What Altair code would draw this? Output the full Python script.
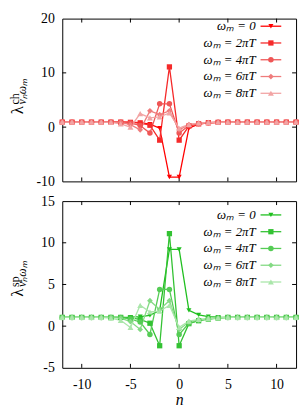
import altair as alt
import pandas as pd

n_vals = list(range(-12, 13))
labels = ["ωₘ = 0", "ωₘ = 2πT", "ωₘ = 4πT", "ωₘ = 6πT", "ωₘ = 8πT"]

# charge channel (n = -12 .. 12)
ch_w0 = [0.92] * 7 + [0.9, 0.82, 0.55, -0.2, -9.2, -9.2, -0.2, 0.55, 0.8, 0.88] + [0.92] * 8
ch_w1 = [0.92] * 7 + [0.88, 0.75, 0.35, -2.4, 11.1, -2.4, 0.2, 0.6, 0.8, 0.88] + [0.92] * 8
ch_w2 = [0.92] * 7 + [0.75, 0.3, -1.1, 4.3, 4.3, -1.1, 0.3, 0.65, 0.82, 0.9] + [0.92] * 8
ch_w3 = [0.92] * 6 + [0.88, 0.45, -0.5, 3.0, 2.3, 3.0, -0.5, 0.45, 0.7, 0.85, 0.9] + [0.92] * 8
ch_w4 = [0.92] * 5 + [0.88, 0.6, 0.0, 2.5, 1.7, 1.9, 2.6, -0.2, 0.5, 0.75, 0.85, 0.9] + [0.92] * 8

# spin channel
sp_w0 = [1.05] * 7 + [1.08, 1.15, 1.3, 1.9, 9.2, 9.2, 1.9, 1.35, 1.15, 1.08] + [1.05] * 8
sp_w1 = [1.05] * 7 + [1.0, 0.8, 0.35, -2.35, 11.1, -2.35, 0.3, 0.65, 0.85, 0.97] + [1.05] * 8
sp_w2 = [1.05] * 7 + [0.85, 0.5, -1.0, 4.4, 4.4, -1.0, 0.35, 0.7, 0.88, 0.98] + [1.05] * 8
sp_w3 = [1.05] * 6 + [0.95, 0.55, -0.4, 3.05, 2.0, 3.05, -0.4, 0.5, 0.75, 0.9, 0.98] + [1.05] * 8
sp_w4 = [1.05] * 5 + [0.95, 0.7, -0.15, 2.5, 1.7, 1.8, 2.5, -0.15, 0.6, 0.8, 0.9, 0.98] + [1.05] * 8

red_colors = ["#ff0000", "#f52a2a", "#ef5656", "#ef7c7c", "#f2a4a4"]
green_colors = ["#1fbf1f", "#33c233", "#55cc55", "#84da84", "#aae6aa"]
shapes = ["triangle-down", "square", "circle", "diamond", "triangle-up"]
sizes = [26, 36, 22, 14, 22]

x_ticks = [-10, -5, 0, 5, 10]
ch_ticks = [-10, 0, 10, 20]
sp_ticks = [-5, 0, 5, 10, 15]

W = 237
SERIF = "Liberation Serif"
LBL = "datum.value < 0 ? '-' + abs(datum.value) : '' + datum.value"


def panel(series, colors, ydom, yticks, sup, H, leg_top, title_mid, show_x):
    rows = []
    for lab, vals in zip(labels, series):
        for n, v in zip(n_vals, vals):
            rows.append({"n": n, "val": v, "omega": lab})
    df = pd.DataFrame(rows)

    xs = alt.Scale(domain=[-12, 12], nice=False, zero=False)
    ys = alt.Scale(domain=ydom, nice=False, zero=False)
    if show_x:
        xaxis = alt.Axis(values=x_ticks, title="n", ticks=False, domain=False, grid=False,
                         labelPadding=10, labelExpr=LBL, labelFont=SERIF, labelFontSize=14,
                         labelColor="black", titleFont=SERIF, titleFontStyle="italic",
                         titleFontWeight="normal", titleFontSize=16, titlePadding=0,
                         titleColor="black")
    else:
        xaxis = None
    yaxis = alt.Axis(values=yticks, title=None, ticks=False, domain=False, grid=False,
                     labelPadding=8, labelExpr=LBL, labelFont=SERIF, labelFontSize=14,
                     labelColor="black")

    def XE(f):
        return alt.X(f + ":Q", scale=xs, axis=xaxis)

    def YE(f):
        return alt.Y(f + ":Q", scale=ys, axis=yaxis)

    col = alt.Color("omega:N", scale=alt.Scale(domain=labels, range=colors), legend=None)
    shp = alt.Shape("omega:N", scale=alt.Scale(domain=labels, range=shapes), legend=None)
    siz = alt.Size("omega:N", scale=alt.Scale(domain=labels, range=sizes), legend=None)

    lines = alt.Chart(df).mark_line(strokeWidth=1.3).encode(x=XE("n"), y=YE("val"), color=col)
    pts = alt.Chart(df).mark_point(filled=True, opacity=1).encode(
        x=XE("n"), y=YE("val"), color=col, shape=shp, size=siz)

    # inward ticks on all four sides
    xt = pd.DataFrame({"n": x_ticks})
    yt = pd.DataFrame({"val": [v for v in yticks if ydom[0] < v < ydom[1]]})
    tk = dict(color="black", strokeWidth=1)
    t1 = alt.Chart(xt).mark_rule(**tk).encode(x=XE("n"), y=alt.value(0), y2=alt.value(4))
    t2 = alt.Chart(xt).mark_rule(**tk).encode(x=XE("n"), y=alt.value(H - 4), y2=alt.value(H))
    t3 = alt.Chart(yt).mark_rule(**tk).encode(y=YE("val"), x=alt.value(0), x2=alt.value(4))
    t4 = alt.Chart(yt).mark_rule(**tk).encode(y=YE("val"), x=alt.value(W - 4), x2=alt.value(W))

    # legend inside top right
    span = ydom[1] - ydom[0]

    def px2n(p):
        return -12 + p * 24.0 / W

    leg = pd.DataFrame({
        "omega": labels,
        "val": [ydom[1] - (leg_top + i * 17) * span / H for i in range(5)],
        "lxt": [px2n(196)] * 5,
        "lx1": [px2n(201)] * 5,
        "lx2": [px2n(222)] * 5,
        "lxm": [px2n(211.5)] * 5,
    })
    l_rule = alt.Chart(leg).mark_rule(strokeWidth=1.3).encode(
        x=XE("lx1"), x2=alt.X2("lx2:Q"), y=YE("val"), color=col)
    l_pt = alt.Chart(leg).mark_point(filled=True, opacity=1).encode(
        x=XE("lxm"), y=YE("val"), color=col, shape=shp, size=siz)
    l_txt = alt.Chart(leg).mark_text(align="right", baseline="middle", font=SERIF,
                                     fontStyle="italic", fontSize=13, color="black").encode(
        x=XE("lxt"), y=YE("val"), text="omega:N")

    # y title: lambda with super/subscripts (rotated, reading upward)
    one = pd.DataFrame({"a": [0]})
    lam = alt.Chart(one).mark_text(text="λ", angle=270, align="left", baseline="top",
                                   font=SERIF, fontSize=17, color="black").encode(
        x=alt.value(-53), y=alt.value(title_mid + 10))
    sup_t = alt.Chart(one).mark_text(text=sup, angle=270, align="left", baseline="top",
                                     font=SERIF, fontSize=12, color="black").encode(
        x=alt.value(-53), y=alt.value(title_mid))
    sub_t = alt.Chart(one).mark_text(text="νₙωₘ", angle=270, align="left", baseline="top",
                                     font=SERIF, fontStyle="italic", fontSize=12, color="black").encode(
        x=alt.value(-46), y=alt.value(title_mid))

    return alt.layer(t1, t2, t3, t4, lines, pts, l_rule, l_pt, l_txt, lam, sup_t, sub_t).properties(
        width=W, height=H)


top = panel([ch_w0, ch_w1, ch_w2, ch_w3, ch_w4], red_colors, [-10, 20], ch_ticks, "ch",
            165, 7.7, 87, False)
bottom = panel([sp_w0, sp_w1, sp_w2, sp_w3, sp_w4], green_colors, [-5, 15], sp_ticks, "sp",
               169, 14, 87, True)

chart = alt.vconcat(top, bottom, spacing=20, bounds="flush").resolve_scale(
    color="independent", shape="independent", size="independent", y="independent", x="independent"
).properties(
    padding=0, background="white"
).configure_view(stroke="black", strokeWidth=1)

chart.save("out.html", embed_options={"renderer": "svg", "actions": False})
